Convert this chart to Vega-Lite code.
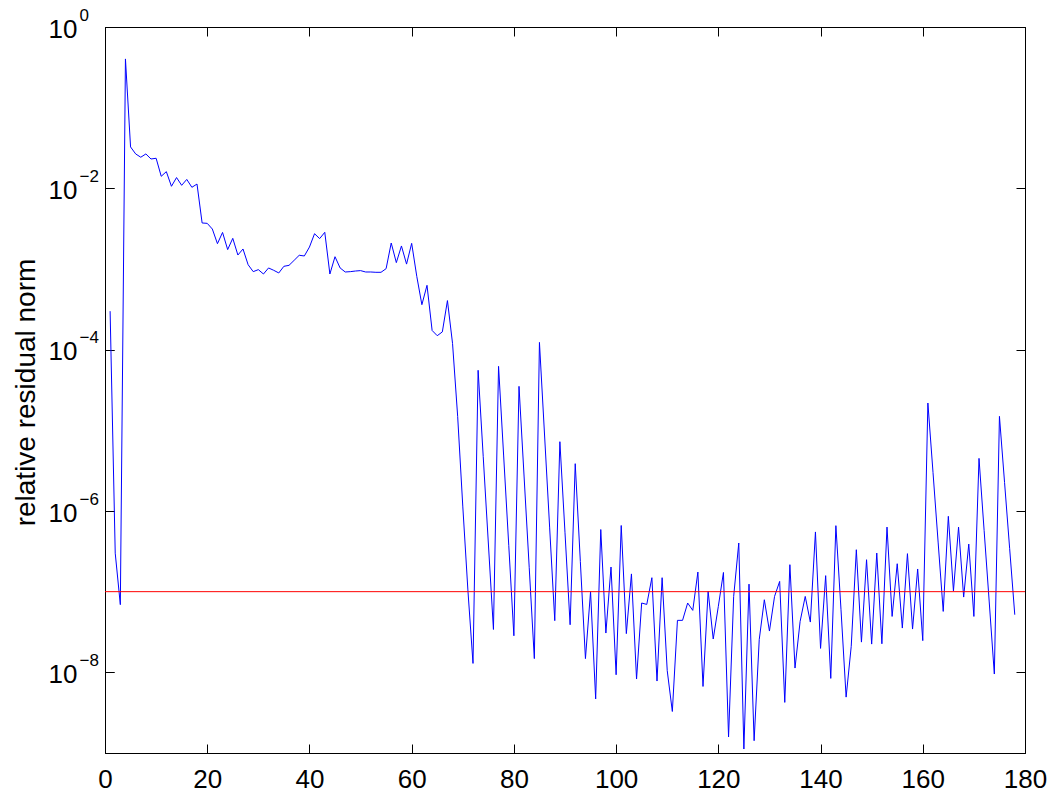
{
  "$schema": "https://vega.github.io/schema/vega-lite/v6.json",
  "width": 920,
  "height": 726,
  "autosize": "none",
  "padding": {"left": 105, "top": 27, "right": 29, "bottom": 39},
  "background": "white",
  "config": {
    "view": {"stroke": "black", "strokeWidth": 1},
    "font": "Liberation Sans",
    "axis": {
      "grid": false,
      "domainColor": "black",
      "tickColor": "black",
      "labelColor": "black",
      "titleColor": "black",
      "labelFont": "Liberation Sans",
      "titleFont": "Liberation Sans",
      "labelFontSize": 26,
      "titleFontSize": 28,
      "titleFontWeight": "normal",
      "tickSize": -9,
      "tickWidth": 1,
      "domainWidth": 1
    }
  },
  "data": {
    "values": [
      {"iter": 1, "res": 3.0e-4}, {"iter": 2, "res": 3.0e-7}, {"iter": 3, "res": 6.9e-8}, {"iter": 4, "res": 0.402},
      {"iter": 5, "res": 0.0326}, {"iter": 6, "res": 0.0267}, {"iter": 7, "res": 0.0243}, {"iter": 8, "res": 0.0267},
      {"iter": 9, "res": 0.0231}, {"iter": 10, "res": 0.0236}, {"iter": 11, "res": 0.0141}, {"iter": 12, "res": 0.0161},
      {"iter": 13, "res": 0.0106}, {"iter": 14, "res": 0.0136}, {"iter": 15, "res": 0.0109}, {"iter": 16, "res": 0.0129},
      {"iter": 17, "res": 0.0103}, {"iter": 18, "res": 0.0113}, {"iter": 19, "res": 0.00372}, {"iter": 20, "res": 0.00368},
      {"iter": 21, "res": 0.00313}, {"iter": 22, "res": 0.00206}, {"iter": 23, "res": 0.00284}, {"iter": 24, "res": 0.00174},
      {"iter": 25, "res": 0.0024}, {"iter": 26, "res": 0.00149}, {"iter": 27, "res": 0.00177}, {"iter": 28, "res": 0.00113},
      {"iter": 29, "res": 0.000927}, {"iter": 30, "res": 0.000982}, {"iter": 31, "res": 0.000867}, {"iter": 32, "res": 0.00103},
      {"iter": 33, "res": 0.000964}, {"iter": 34, "res": 0.000893}, {"iter": 35, "res": 0.00108}, {"iter": 36, "res": 0.00111},
      {"iter": 37, "res": 0.00128}, {"iter": 38, "res": 0.00148}, {"iter": 39, "res": 0.00145}, {"iter": 40, "res": 0.00187},
      {"iter": 41, "res": 0.00274}, {"iter": 42, "res": 0.00238}, {"iter": 43, "res": 0.00285}, {"iter": 44, "res": 0.000867},
      {"iter": 45, "res": 0.00142}, {"iter": 46, "res": 0.00103}, {"iter": 47, "res": 0.000918}, {"iter": 48, "res": 0.000927},
      {"iter": 49, "res": 0.000944}, {"iter": 50, "res": 0.000955}, {"iter": 51, "res": 0.000918}, {"iter": 52, "res": 0.000918},
      {"iter": 53, "res": 0.00091}, {"iter": 54, "res": 0.00091}, {"iter": 55, "res": 0.00101}, {"iter": 56, "res": 0.0021},
      {"iter": 57, "res": 0.0012}, {"iter": 58, "res": 0.00193}, {"iter": 59, "res": 0.00115}, {"iter": 60, "res": 0.00208},
      {"iter": 61, "res": 0.000811}, {"iter": 62, "res": 0.000361}, {"iter": 63, "res": 0.000628}, {"iter": 64, "res": 0.000173},
      {"iter": 65, "res": 0.000149}, {"iter": 66, "res": 0.000166}, {"iter": 67, "res": 0.000406}, {"iter": 68, "res": 0.000119},
      {"iter": 69, "res": 1.49e-5}, {"iter": 70, "res": 1.15e-6}, {"iter": 71, "res": 1.05e-7}, {"iter": 72, "res": 1.29e-8},
      {"iter": 73, "res": 5.55e-5}, {"iter": 74, "res": 4.71e-6}, {"iter": 75, "res": 4.01e-7}, {"iter": 76, "res": 3.4e-8},
      {"iter": 77, "res": 6.21e-5}, {"iter": 78, "res": 4.81e-6}, {"iter": 79, "res": 3.72e-7}, {"iter": 80, "res": 2.84e-8},
      {"iter": 81, "res": 3.51e-5}, {"iter": 82, "res": 2.64e-6}, {"iter": 83, "res": 1.98e-7}, {"iter": 84, "res": 1.48e-8},
      {"iter": 85, "res": 1.23e-4}, {"iter": 86, "res": 8.75e-6}, {"iter": 87, "res": 6.17e-7}, {"iter": 88, "res": 4.37e-8},
      {"iter": 89, "res": 7.23e-6}, {"iter": 90, "res": 5.37e-7}, {"iter": 91, "res": 3.89e-8}, {"iter": 92, "res": 3.86e-6},
      {"iter": 93, "res": 2.37e-7}, {"iter": 94, "res": 1.48e-8}, {"iter": 95, "res": 1.0e-7}, {"iter": 96, "res": 4.68e-9},
      {"iter": 97, "res": 5.89e-7}, {"iter": 98, "res": 3.07e-8}, {"iter": 99, "res": 2.02e-7}, {"iter": 100, "res": 9.33e-9},
      {"iter": 101, "res": 6.61e-7}, {"iter": 102, "res": 3.02e-8}, {"iter": 103, "res": 1.66e-7}, {"iter": 104, "res": 8.26e-9},
      {"iter": 105, "res": 7.23e-8}, {"iter": 106, "res": 6.95e-8}, {"iter": 107, "res": 1.49e-7}, {"iter": 108, "res": 7.8e-9},
      {"iter": 109, "res": 1.49e-7}, {"iter": 110, "res": 1.05e-8}, {"iter": 111, "res": 3.27e-9}, {"iter": 112, "res": 4.41e-8},
      {"iter": 113, "res": 4.41e-8}, {"iter": 114, "res": 7.23e-8}, {"iter": 115, "res": 5.86e-8}, {"iter": 116, "res": 1.75e-7},
      {"iter": 117, "res": 6.68e-9}, {"iter": 118, "res": 1.01e-7}, {"iter": 119, "res": 2.59e-8}, {"iter": 120, "res": 6.58e-8},
      {"iter": 121, "res": 1.73e-7}, {"iter": 122, "res": 1.58e-9}, {"iter": 123, "res": 8.73e-8}, {"iter": 124, "res": 4.01e-7},
      {"iter": 125, "res": 1.12e-9}, {"iter": 126, "res": 1.24e-7}, {"iter": 127, "res": 1.42e-9}, {"iter": 128, "res": 2.54e-8},
      {"iter": 129, "res": 7.94e-8}, {"iter": 130, "res": 3.25e-8}, {"iter": 131, "res": 8.73e-8}, {"iter": 132, "res": 1.34e-7},
      {"iter": 133, "res": 4.24e-9}, {"iter": 134, "res": 2.16e-7}, {"iter": 135, "res": 1.13e-8}, {"iter": 136, "res": 4.28e-8},
      {"iter": 137, "res": 8.73e-8}, {"iter": 138, "res": 4.2e-8}, {"iter": 139, "res": 5.5e-7}, {"iter": 140, "res": 1.98e-8},
      {"iter": 141, "res": 1.58e-7}, {"iter": 142, "res": 8.41e-9}, {"iter": 143, "res": 6.58e-7}, {"iter": 144, "res": 5.97e-8},
      {"iter": 145, "res": 4.93e-9}, {"iter": 146, "res": 2.1e-8}, {"iter": 147, "res": 3.31e-7}, {"iter": 148, "res": 2.37e-8},
      {"iter": 149, "res": 2.49e-7}, {"iter": 150, "res": 2.24e-8}, {"iter": 151, "res": 3.01e-7}, {"iter": 152, "res": 2.26e-8},
      {"iter": 153, "res": 6.32e-7}, {"iter": 154, "res": 4.93e-8}, {"iter": 155, "res": 2.22e-7}, {"iter": 156, "res": 3.54e-8},
      {"iter": 157, "res": 2.96e-7}, {"iter": 158, "res": 3.44e-8}, {"iter": 159, "res": 1.91e-7}, {"iter": 160, "res": 2.47e-8},
      {"iter": 161, "res": 2.18e-5}, {"iter": 162, "res": 3.01e-6}, {"iter": 163, "res": 4.12e-7}, {"iter": 164, "res": 5.69e-8},
      {"iter": 165, "res": 8.59e-7}, {"iter": 166, "res": 1.02e-7}, {"iter": 167, "res": 6.32e-7}, {"iter": 168, "res": 8.57e-8},
      {"iter": 169, "res": 3.89e-7}, {"iter": 170, "res": 4.93e-8}, {"iter": 171, "res": 4.49e-6}, {"iter": 172, "res": 5.75e-7},
      {"iter": 173, "res": 7.45e-8}, {"iter": 174, "res": 9.53e-9}, {"iter": 175, "res": 1.49e-5}, {"iter": 176, "res": 2.26e-6},
      {"iter": 177, "res": 3.41e-7}, {"iter": 178, "res": 5.18e-8}
    ]
  },
  "layer": [
    {
      "mark": {"type": "line", "color": "#0000ff", "strokeWidth": 1, "clip": true},
      "encoding": {
        "x": {
          "field": "iter", "type": "quantitative",
          "scale": {"domain": [0, 180], "nice": false, "zero": false},
          "axis": {"orient": "bottom", "title": null, "values": [0, 20, 40, 60, 80, 100, 120, 140, 160, 180], "labelPadding": 22, "labelFlush": false}
        },
        "y": {
          "field": "res", "type": "quantitative",
          "scale": {"type": "log", "domain": [1e-9, 1], "nice": false},
          "axis": {
            "orient": "left", "title": "relative residual norm",
            "titleX": -71, "titleY": 365, "titleBaseline": "alphabetic", "titleAngle": -90,
            "values": [1e-8, 1e-6, 1e-4, 1e-2, 1],
            "labelExpr": "'10'",
            "labelAlign": "right", "labelBaseline": "middle", "labelOffset": 2,
            "labelPadding": 37, "labelFlush": false
          }
        }
      }
    },
    {
      "mark": {"type": "line", "opacity": 0},
      "encoding": {
        "x": {
          "field": "iter", "type": "quantitative",
          "axis": {"orient": "top", "title": null, "labels": false, "values": [0, 20, 40, 60, 80, 100, 120, 140, 160, 180]}
        },
        "y": {
          "field": "res", "type": "quantitative",
          "axis": {"orient": "right", "title": null, "labels": false, "values": [1e-8, 1e-6, 1e-4, 1e-2, 1]}
        }
      }
    },
    {
      "mark": {"type": "line", "opacity": 0},
      "encoding": {
        "x": {"field": "iter", "type": "quantitative", "axis": null},
        "y": {
          "field": "res", "type": "quantitative",
          "axis": {
            "orient": "left", "title": null, "domain": false,
            "values": [1e-8, 1e-6, 1e-4, 1e-2, 1],
            "labelExpr": "['0','\u22122','\u22124','\u22126','\u22128'][round(-log(datum.value)/LN10/2)]",
            "labelFontSize": 17, "labelAlign": "left", "labelBaseline": "middle",
            "labelOffset": -12, "labelPadding": 35, "labelFlush": false
          }
        }
      }
    },
    {
      "data": {"values": [{"tol": 1e-7}]},
      "mark": {"type": "rule", "color": "#ff0000", "strokeWidth": 1},
      "encoding": {
        "y": {"field": "tol", "type": "quantitative", "axis": null}
      }
    }
  ],
  "resolve": {"axis": {"x": "independent", "y": "independent"}}
}
